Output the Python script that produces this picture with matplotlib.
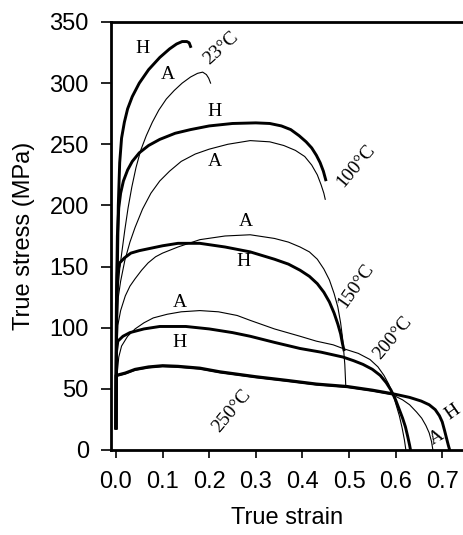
import matplotlib
matplotlib.use("Agg")
import matplotlib.pyplot as plt

# ---- data (true strain, true stress MPa) ----
h23_x = [0, 0.001, 0.003, 0.005, 0.008, 0.012, 0.018, 0.025, 0.035, 0.05, 0.07, 0.094, 0.115, 0.13, 0.142, 0.152, 0.157, 0.16]
h23_y = [18, 80, 150, 200, 235, 255, 268, 279, 289, 300, 311, 321, 328, 332, 334, 334, 333, 330]
a23_x = [0, 0.002, 0.004, 0.008, 0.012, 0.019, 0.026, 0.034, 0.043, 0.053, 0.065, 0.078, 0.092, 0.108, 0.125, 0.142, 0.16, 0.175, 0.186, 0.194, 0.199, 0.203]
a23_y = [18, 100, 130, 148, 160, 180, 198, 215, 231, 245, 257, 268, 278, 287, 294, 300, 305, 308, 309, 307, 304, 300]

h100_x = [0, 0.001, 0.003, 0.006, 0.01, 0.016, 0.025, 0.035, 0.05, 0.07, 0.094, 0.127, 0.16, 0.2, 0.25, 0.3, 0.33, 0.355, 0.375, 0.393, 0.408, 0.42, 0.43, 0.438, 0.445, 0.45]
h100_y = [18, 120, 175, 198, 210, 220, 229, 236, 243, 249, 254, 259, 262, 265, 267, 267.5, 267, 265, 262, 257, 252, 247, 241, 235, 228, 221]
a100_x = [0, 0.002, 0.005, 0.01, 0.019, 0.03, 0.041, 0.057, 0.075, 0.094, 0.115, 0.14, 0.17, 0.2, 0.24, 0.288, 0.33, 0.36, 0.385, 0.405, 0.42, 0.432, 0.44, 0.446, 0.449]
a100_y = [18, 100, 125, 138, 155, 170, 182, 197, 210, 220, 228, 236, 242, 246, 250, 253, 252, 249, 245, 240, 233, 225, 217, 210, 205]

h150_x = [0, 0.001, 0.003, 0.008, 0.018, 0.032, 0.05, 0.075, 0.1, 0.133, 0.18, 0.234, 0.288, 0.34, 0.37, 0.395, 0.415, 0.432, 0.446, 0.458, 0.468, 0.476, 0.482, 0.486, 0.489]
h150_y = [18, 120, 145, 153, 157, 161, 163, 165, 167, 169, 169, 166, 162, 156, 152, 147, 142, 136, 129, 121, 112, 103, 95, 87, 82]
a150_x = [0, 0.002, 0.004, 0.01, 0.02, 0.03, 0.041, 0.055, 0.069, 0.085, 0.1, 0.133, 0.18, 0.234, 0.288, 0.34, 0.37, 0.395, 0.415, 0.432, 0.446, 0.458, 0.468, 0.476, 0.482, 0.486, 0.488, 0.491, 0.493]
a150_y = [18, 80, 102, 114, 126, 134, 140, 147, 153, 158, 161, 166, 172, 175, 176, 173, 170, 166, 162, 156, 148, 139, 128, 117, 104, 92, 84, 70, 53]

h200_x = [0, 0.001, 0.004, 0.015, 0.03, 0.06, 0.094, 0.15, 0.2, 0.25, 0.288, 0.34, 0.395, 0.44, 0.487, 0.51, 0.53, 0.55, 0.567, 0.58, 0.59, 0.6, 0.608, 0.615, 0.621, 0.626, 0.63, 0.632]
h200_y = [18, 80, 89, 93, 96, 99, 101, 101, 99, 96, 93, 88, 83, 80, 76, 73, 70, 66, 61, 55, 49, 41, 33, 26, 19, 11, 4, 0]
a200_x = [0, 0.002, 0.006, 0.012, 0.025, 0.041, 0.06, 0.08, 0.11, 0.14, 0.18, 0.22, 0.26, 0.288, 0.34, 0.395, 0.43, 0.466, 0.487, 0.52, 0.545, 0.562, 0.575, 0.585, 0.594, 0.601, 0.608, 0.614, 0.619, 0.622]
a200_y = [18, 60, 76, 85, 93, 99, 104, 108, 111, 113, 114, 113, 110, 106, 99, 93, 89, 86, 83, 79, 74, 68, 61, 54, 46, 37, 28, 18, 8, 0]

h250_x = [0, 0.0, 0.02, 0.041, 0.07, 0.1, 0.133, 0.18, 0.223, 0.3, 0.367, 0.43, 0.496, 0.55, 0.594, 0.63, 0.655, 0.672, 0.685, 0.694, 0.7, 0.705, 0.709, 0.713, 0.716]
h250_y = [18, 61, 63, 66, 68, 69, 68.5, 67, 64, 60, 57, 54, 52, 49, 46, 43, 40, 37, 33, 28, 23, 16, 10, 4, 0]
a250_x = [0, 0.0, 0.02, 0.041, 0.07, 0.1, 0.133, 0.18, 0.223, 0.3, 0.367, 0.43, 0.496, 0.55, 0.594, 0.615, 0.63, 0.645, 0.656, 0.665, 0.672, 0.677, 0.68]
a250_y = [18, 60, 62, 65, 67, 68, 67.5, 66, 63, 59, 56, 53, 51, 48, 45, 41, 37, 31, 26, 20, 14, 7, 0]

x_ticks = [0.0, 0.1, 0.2, 0.3, 0.4, 0.5, 0.6, 0.7]
y_ticks = [0, 50, 100, 150, 200, 250, 300, 350]

fig = plt.figure(figsize=(4.63, 5.35), dpi=100)
ax = fig.add_axes([0.2397, 0.1589, 0.7603, 0.8])

thick = dict(color="black", lw=2.1, solid_joinstyle="round")
thin = dict(color="black", lw=0.8, solid_joinstyle="round")
for xs, ys in [(h23_x, h23_y), (h100_x, h100_y), (h150_x, h150_y), (h200_x, h200_y), (h250_x, h250_y)]:
    ax.plot(xs, ys, **thick)
for xs, ys in [(a23_x, a23_y), (a100_x, a100_y), (a150_x, a150_y), (a200_x, a200_y), (a250_x, a250_y)]:
    ax.plot(xs, ys, **thin)

ax.set_xlim(-0.0107, 0.7446)
ax.set_ylim(0, 350)
ax.set_xticks(x_ticks)
ax.set_xticklabels([f"{v:.1f}" for v in x_ticks])
ax.set_yticks(y_ticks)

for s in ["left", "top", "bottom"]:
    ax.spines[s].set_linewidth(2.0)
ax.spines["right"].set_visible(False)

tf = dict(family="Liberation Sans", size=17)
ax.tick_params(axis="y", direction="out", length=7, width=1.2, pad=9, labelsize=17)
ax.tick_params(axis="x", direction="out", length=6, width=1.2, pad=9, labelsize=17)
for lab in ax.get_xticklabels() + ax.get_yticklabels():
    lab.set_fontfamily("Liberation Sans")

ax.set_xlabel("True strain", **tf, labelpad=10)
ax.set_ylabel("True stress (MPa)", **tf, labelpad=10)

sf = dict(family="Liberation Serif", size=14, ha="center", va="center")
ax.text(0.058, 328, "H", **sf)
ax.text(0.112, 307, "A", **sf)
ax.text(0.225, 329, "23°C", rotation=42, **sf)
ax.text(0.212, 277, "H", **sf)
ax.text(0.212, 236, "A", **sf)
ax.text(0.515, 232, "100°C", rotation=50, **sf)
ax.text(0.279, 187, "A", **sf)
ax.text(0.273, 154, "H", **sf)
ax.text(0.515, 134, "150°C", rotation=55, **sf)
ax.text(0.137, 121, "A", **sf)
ax.text(0.137, 88, "H", **sf)
ax.text(0.594, 92, "200°C", rotation=50, **sf)
ax.text(0.249, 32, "250°C", rotation=50, **sf)
ax.text(0.722, 31, "H", rotation=35, **sf)
ax.text(0.689, 10, "A", rotation=30, **sf)

fig.savefig("out.png", dpi=100)
